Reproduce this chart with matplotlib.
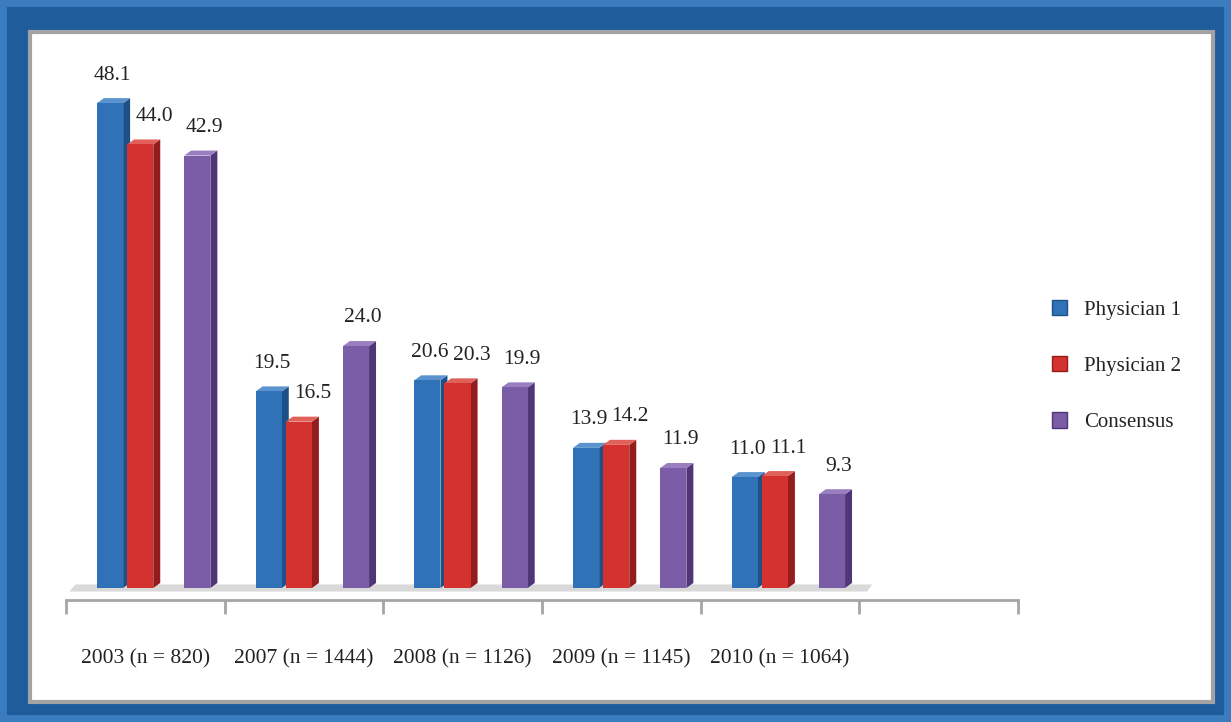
import matplotlib.pyplot as plt
from matplotlib.patches import Rectangle, Polygon, Patch

plt.rcParams['font.family'] = ['Liberation Serif', 'DejaVu Serif']

# data
categories = ['2003 (n = 820)', '2007 (n = 1444)', '2008 (n = 1126)',
              '2009 (n = 1145)', '2010 (n = 1064)']
physician1 = [48.1, 19.5, 20.6, 13.9, 11.0]
physician2 = [44.0, 16.5, 20.3, 14.2, 11.1]
consensus = [42.9, 24.0, 19.9, 11.9, 9.3]
series_names = ['Physician 1', 'Physician 2', 'Consensus']

# front, side, top colours for the fake 3d bars
styles = [
    ('#2f72b8', '#1d4f88', '#5b93cf'),
    ('#d3322e', '#951c1c', '#e0605a'),
    ('#7b5ca6', '#4e3677', '#9a7fc0'),
]
offsets = [0.195, 0.385, 0.745]   # front-face left edge inside a category slot
label_dx = [2, 10, 5]             # label shift in points

W, H = 1231, 722
fig = plt.figure(figsize=(W / 100, H / 100), dpi=100)
fig.patch.set_facecolor('#1e5c9b')

# frame: light outer band, dark blue, then white panel with grey border
fig.patches.append(Rectangle((0, 0), 1, 1, transform=fig.transFigure,
                             fill=False, ec='#3b7cbf', lw=10, zorder=-2))
fig.patches.append(Rectangle((30 / W, 1 - 702 / H), (1213 - 30) / W, (702 - 32) / H,
                             transform=fig.transFigure, fc='white',
                             ec='#a3a3a3', lw=3, zorder=-1))

ax = fig.add_axes([66 / W, 1 - 600 / H, (1018 - 66) / W, 550 / H])
ax.set_zorder(1)
ax.set_xlim(0, 6)
px = 10.08  # pixels per unit
ax.set_ylim(-12 / px, -12 / px + 550 / px)
ax.patch.set_alpha(0)

bw = 0.165   # front width
d = 0.044    # depth in x
dy = 0.5     # depth in y

# floor shadow
ax.add_patch(Polygon([(0.02, -0.35), (5.05, -0.35), (5.08, 0.35), (0.06, 0.35)],
                     closed=True, fc='#d9d9d9', ec='none', zorder=1))

for s, vals in enumerate([physician1, physician2, consensus]):
    front, side, top = styles[s]
    for i, v in enumerate(vals):
        x0 = i + offsets[s]
        x1 = x0 + bw
        z = 3 + s
        ax.add_patch(Polygon([(x1, 0), (x1 + d, dy), (x1 + d, v + dy), (x1, v)],
                             closed=True, fc=side, ec='none', zorder=z))
        ax.add_patch(Polygon([(x0, v), (x0 + d, v + dy), (x1 + d, v + dy), (x1, v)],
                             closed=True, fc=top, ec='none', zorder=z))
        ax.bar(x0, v, width=bw, align='edge', color=front, zorder=z)
        ax.annotate(f'{v:.1f}', (x0 + bw / 2, v), xytext=(label_dx[s], 17),
                    textcoords='offset points', ha='center', va='baseline',
                    fontsize=15.5, color='#222222', zorder=10)

# axis line with ticks
for sp in ['top', 'right', 'left']:
    ax.spines[sp].set_visible(False)
ax.spines['bottom'].set_color('#a5a5a5')
ax.spines['bottom'].set_linewidth(2)
ax.set_yticks([])
ax.set_xticks(range(7))
ax.set_xticklabels([])
ax.tick_params(axis='x', length=10, width=2, color='#a5a5a5', direction='out')
for i, c in enumerate(categories):
    ax.text(i + 0.5, -7.0, c, ha='center', va='center', fontsize=15.5,
            color='#222222')

handles = [Patch(facecolor=st[0], edgecolor=st[1]) for st in styles]
fig.legend(handles, series_names, loc='upper left',
           bbox_to_anchor=(1033 / W, 1 - 281 / H), frameon=False,
           fontsize=15, handlelength=0.75, handleheight=0.75,
           handletextpad=0.8, labelspacing=1.75, labelcolor='#222222')

fig.savefig('out.png', dpi=100, facecolor=fig.get_facecolor())
